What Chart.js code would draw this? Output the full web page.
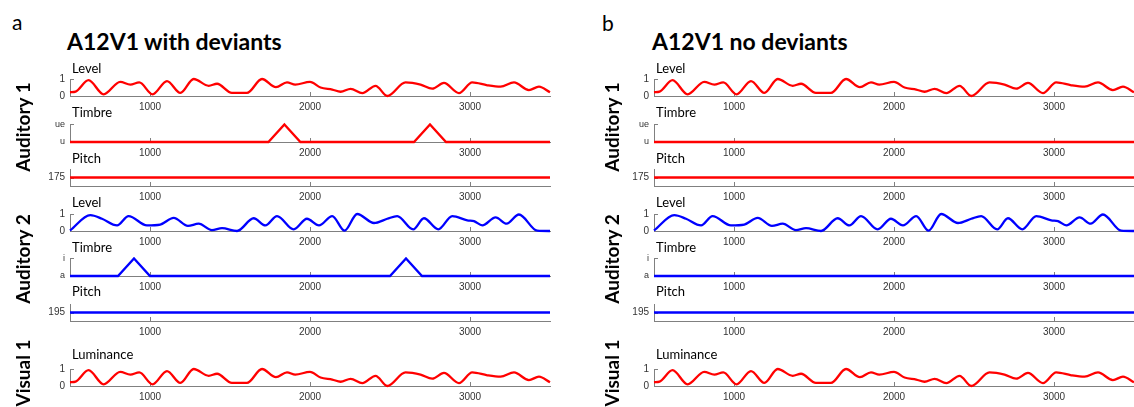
<!DOCTYPE html>
<html>
<head>
<meta charset="utf-8">
<script src="https://cdn.jsdelivr.net/npm/chart.js@4.4.1/dist/chart.umd.min.js"></script>
<style>
  body { margin: 0; background: #fff; width: 1134px; height: 407px; overflow: hidden; position: relative; font-family: Lato, sans-serif; }
  canvas { position: absolute; }
  .txt { position: absolute; white-space: nowrap; color: #000; }
  .panel { font-size: 21px; line-height: 21px; }
  .title { font-size: 23px; line-height: 23px; font-weight: bold; }
  .sub { font-size: 13px; line-height: 13px; }
  .side { font-size: 19px; line-height: 19px; font-weight: bold; transform: translate(-50%, -50%) rotate(-90deg); }
</style>
</head>
<body>
<script>
// time axis (ms)
const xMin = 500, xMax = 3500;
const xTicks = [1000, 2000, 3000];

// Auditory 1 level envelope (also used for Visual 1 luminance)
const levelA1X = [500, 535, 616, 710, 814, 877, 933, 1016, 1106, 1190, 1273, 1367, 1419, 1512, 1606, 1700, 1787, 1856, 1908, 2000, 2066, 2139, 2191, 2254, 2327, 2410, 2483, 2597, 2691, 2764, 2837, 2931, 3014, 3108, 3191, 3275, 3368, 3431, 3500];
const levelA1Y = [0.22, 0.26, 0.93, 0.1, 0.83, 0.67, 0.8, 0.1, 0.88, 0.18, 1.0, 0.6, 0.72, 0.18, 0.18, 1.0, 0.52, 0.8, 0.67, 0.83, 0.5, 0.38, 0.25, 0.42, 0.17, 0.6, 0.0, 0.8, 0.67, 0.43, 0.77, 0.17, 0.8, 0.63, 0.55, 0.8, 0.35, 0.55, 0.22];
const lumV1X = levelA1X;
const lumV1Y = levelA1Y;

// Auditory 2 level envelope
const levelA2X = [500, 627, 700, 794, 866, 981, 1064, 1148, 1237, 1304, 1387, 1450, 1544, 1648, 1721, 1794, 1898, 1981, 2056, 2139, 2216, 2295, 2400, 2483, 2545, 2645, 2712, 2802, 2889, 2983, 3025, 3077, 3160, 3229, 3306, 3420, 3500];
const levelA2Y = [0.03, 0.93, 0.72, 0.33, 0.88, 0.33, 0.38, 0.77, 0.3, 0.43, 0.05, 0.17, 0.0, 0.75, 0.33, 0.88, 0.1, 0.72, 0.33, 0.88, 0.02, 1.0, 0.47, 0.72, 0.88, 0.1, 0.75, 0.1, 0.88, 0.63, 0.58, 0.33, 0.8, 0.43, 0.97, 0.02, 0.0];

// timbre (0 = standard, 1 = deviant)
const timbreA1X = [500, 1740, 1840, 1940, 2650, 2750, 2850, 3500];
const timbreA1Y = [0, 0, 1, 0, 0, 1, 0, 0];
const timbreA2X = [500, 800, 900, 1000, 2500, 2600, 2700, 3500];
const timbreA2Y = [0, 0, 1, 0, 0, 1, 0, 0];
const flatX = [500, 3500];
const flatTimbre = [0, 0];
const timbreA1Labels = ['u', 'ue'];
const timbreA2Labels = ['a', 'i'];

// pitch
const pitchA1 = [175, 175];
const pitchA2 = [195, 195];

const levelTicks = [0, 1];

const red = '#ff0000', blue = '#0000ff';
const axisColor = '#808080', tickColor = '#333';

const inwardTicks = {
    id: 'inwardTicks',
    beforeDatasetsDraw(chart) {
        const {ctx, chartArea, scales: {x, y}} = chart;
        ctx.save();
        ctx.strokeStyle = axisColor;
        ctx.lineWidth = 1;
        ctx.beginPath();
        x.ticks.forEach(t => {
            const px = Math.round(x.getPixelForValue(t.value)) + 0.5;
            ctx.moveTo(px, chartArea.bottom);
            ctx.lineTo(px, chartArea.bottom - 4);
        });
        y.ticks.forEach(t => {
            const py = Math.round(y.getPixelForValue(t.value)) + 0.5;
            ctx.moveTo(chartArea.left, py);
            ctx.lineTo(chartArea.left + 4, py);
        });
        ctx.stroke();
        ctx.restore();
    }
};

function makePlot(panelLeft, padRight, top, xs, ys, color, yMin, yMax, yTicks, yLabels, smooth) {
    const canvas = document.createElement('canvas');
    const w = 40 + 480 + padRight, h = 8 + 20 + 18;
    canvas.width = w;
    canvas.height = h;
    canvas.style.left = (panelLeft - 40) + 'px';
    canvas.style.top = (top - 8) + 'px';
    canvas.style.width = w + 'px';
    canvas.style.height = h + 'px';
    document.body.appendChild(canvas);
    new Chart(canvas, {
        type: 'line',
        data: {
            datasets: [{
                data: xs.map((x, i) => ({x: x, y: ys[i]})),
                borderColor: color,
                borderWidth: 2.3,
                pointRadius: 0,
                cubicInterpolationMode: smooth ? 'monotone' : 'default',
                tension: 0,
                fill: false,
                clip: false
            }]
        },
        options: {
            responsive: false,
            animation: false,
            devicePixelRatio: 1,
            layout: {padding: {top: 8, right: padRight, left: 0, bottom: 0}},
            plugins: {legend: {display: false}, tooltip: {enabled: false}},
            scales: {
                x: {
                    type: 'linear', min: xMin, max: xMax,
                    afterBuildTicks: s => { s.ticks = xTicks.map(v => ({value: v})); },
                    afterFit: s => { s.height = 18; },
                    grid: {display: false, drawTicks: false},
                    border: {color: axisColor, width: 1},
                    ticks: {padding: 5, maxRotation: 0, autoSkip: false, color: tickColor,
                            font: {family: 'Liberation Sans', size: 10},
                            callback: v => String(v)}
                },
                y: {
                    type: 'linear', min: yMin, max: yMax,
                    afterBuildTicks: s => { s.ticks = yTicks.map(v => ({value: v})); },
                    afterFit: s => { s.width = 40; },
                    grid: {display: false, drawTicks: false},
                    border: {color: axisColor, width: 1},
                    ticks: {padding: 5, color: tickColor,
                            font: {family: 'Liberation Sans', size: yLabels ? 9 : 10},
                            callback: v => yLabels ? yLabels[v] : String(v)}
                }
            }
        },
        plugins: [inwardTicks]
    });
}

function addText(cls, text, left, top) {
    const d = document.createElement('div');
    d.className = 'txt ' + cls;
    d.textContent = text;
    d.style.left = left + 'px';
    d.style.top = top + 'px';
    document.body.appendChild(d);
}

const rowTops = [76, 122, 166, 211, 256, 301, 366];
const rowNames = ['Level', 'Timbre', 'Pitch', 'Level', 'Timbre', 'Pitch', 'Luminance'];
const rowBaselines = [73, 117, 163, 207, 252, 296, 359];

function makePanel(panelLeft, padRight, deviants) {
    makePlot(panelLeft, padRight, rowTops[0], levelA1X, levelA1Y, red, 0, 1, levelTicks, null, true);
    if (deviants) makePlot(panelLeft, padRight, rowTops[1], timbreA1X, timbreA1Y, red, 0, 1, [0, 1], timbreA1Labels, false);
    else makePlot(panelLeft, padRight, rowTops[1], flatX, flatTimbre, red, 0, 1, [0, 1], timbreA1Labels, false);
    makePlot(panelLeft, padRight, rowTops[2], flatX, pitchA1, red, 170, 180, [175], null, false);
    makePlot(panelLeft, padRight, rowTops[3], levelA2X, levelA2Y, blue, 0, 1, levelTicks, null, true);
    if (deviants) makePlot(panelLeft, padRight, rowTops[4], timbreA2X, timbreA2Y, blue, 0, 1, [0, 1], timbreA2Labels, false);
    else makePlot(panelLeft, padRight, rowTops[4], flatX, flatTimbre, blue, 0, 1, [0, 1], timbreA2Labels, false);
    makePlot(panelLeft, padRight, rowTops[5], flatX, pitchA2, blue, 190, 200, [195], null, false);
    makePlot(panelLeft, padRight, rowTops[6], lumV1X, lumV1Y, red, 0, 1, levelTicks, null, true);
    rowNames.forEach((n, i) => addText('sub', n, panelLeft + 2, rowBaselines[i] - 11.5));
}

makePanel(70, 8, true);
makePanel(654, 0, false);

addText('panel', 'a', 12, 11);
addText('panel', 'b', 602, 12);
addText('title', 'A12V1 with deviants', 67, 29.5);
addText('title', 'A12V1 no deviants', 652, 29.5);
[['Auditory 1', 127], ['Auditory 2', 259], ['Visual 1', 373]].forEach(([t, cy]) => {
    addText('side', t, 22, cy);
    addText('side', t, 611, cy);
});
</script>
</body>
</html>
